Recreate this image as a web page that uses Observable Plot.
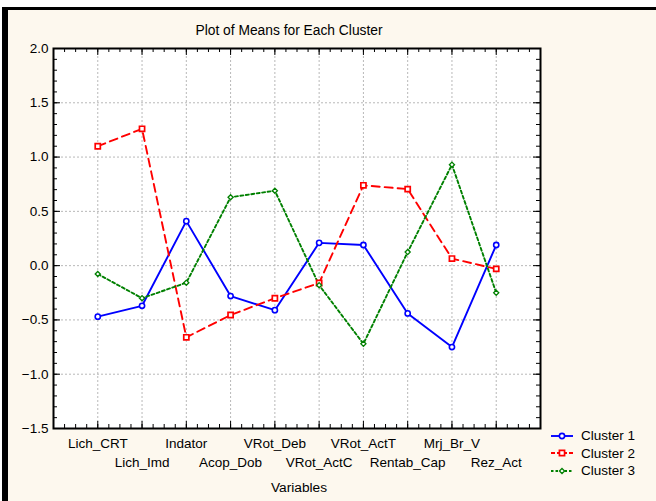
<!DOCTYPE html>
<html>
<head>
<meta charset="utf-8">
<script src="https://cdn.jsdelivr.net/npm/d3@7"></script>
<script src="https://cdn.jsdelivr.net/npm/@observablehq/plot@0.6"></script>
<style>
  html, body { margin: 0; padding: 0; background: #ffffff; }
  body { width: 656px; height: 501px; overflow: hidden; position: relative; font-family: "Liberation Sans", Arial, sans-serif; }
  #panel { position: absolute; left: 2px; top: 7px; width: 648px; height: 491px; border-top: 3px solid #000; border-left: 6px solid #000; background: #fdf8ee; }
  #legend { position: absolute; left: 550px; top: 427px; font-size: 13.5px; color: #000; }
  #legend .row { display: flex; align-items: center; height: 17.5px; }
  #legend svg { margin-right: 7px; }
</style>
</head>
<body>
<div id="panel"></div>
<div id="legend"></div>
<script>
const title = "Plot of Means for Each Cluster";
const xTitle = "Variables";
const variables = ["Lich_CRT", "Lich_Imd", "Indator", "Acop_Dob", "VRot_Deb", "VRot_ActC", "VRot_ActT", "Rentab_Cap", "Mrj_Br_V", "Rez_Act"];
const seriesNames = ["Cluster 1", "Cluster 2", "Cluster 3"];
const cluster1 = [-0.47, -0.37, 0.41, -0.28, -0.41, 0.21, 0.19, -0.44, -0.75, 0.19];
const cluster2 = [1.10, 1.26, -0.66, -0.455, -0.30, -0.16, 0.74, 0.705, 0.065, -0.03];
const cluster3 = [-0.077, -0.30, -0.157, 0.63, 0.69, -0.18, -0.72, 0.125, 0.93, -0.25];
const yTicks = [-1.5, -1.0, -0.5, 0.0, 0.5, 1.0, 1.5, 2.0];

const seriesValues = [cluster1, cluster2, cluster3];
const styles = [
  {color: "#0000ff", dash: null, symbol: "circle", r: 2.6, sw: 1.6},
  {color: "#ff0000", dash: "8,5", symbol: "square", r: 2.9, sw: 1.7},
  {color: "#008000", dash: "3,2.5", symbol: "diamond2", r: 2.3, sw: 1.3}
];

const rows = [];
seriesValues.forEach((vals, s) => vals.forEach((v, i) => rows.push({series: seriesNames[s], s, i, v})));

const idx = d3.range(variables.length);
const yMinor = d3.range(-15, 21).map(k => k / 10);
const xMinor = d3.range(-4, 41).map(k => k / 4);
const xMajor = d3.range(-1, 11);

const W = 648, H = 491, ML = 45, MR = 116, MT = 38, MB = 73;
const PW = W - ML - MR, PH = H - MT - MB;

const fontStyle = {fontSize: 13.5, fontFamily: "Liberation Sans, Arial, sans-serif", fill: "#000", lineAnchor: "middle"};
const tickStyle = {stroke: "#000", strokeWidth: 1};

const marks = [
  Plot.frame({fill: "#ffffff", stroke: null}),
  Plot.gridY(yTicks, {stroke: "#b8b8b8", strokeOpacity: 1, strokeDasharray: "2,2"}),
  Plot.gridX(idx, {stroke: "#b8b8b8", strokeOpacity: 1, strokeDasharray: "2,2"}),
  // inward ticks on all four sides
  Plot.ruleX(xMinor, {x: d => d, insetBottom: PH - 4, ...tickStyle}),
  Plot.ruleX(xMajor, {x: d => d, insetBottom: PH - 7, ...tickStyle}),
  Plot.ruleX(xMinor, {x: d => d, insetTop: PH - 4, ...tickStyle}),
  Plot.ruleX(xMajor, {x: d => d, insetTop: PH - 7, ...tickStyle}),
  Plot.ruleY(yMinor, {y: d => d, insetRight: PW - 4, ...tickStyle}),
  Plot.ruleY(yTicks, {y: d => d, insetRight: PW - 7, ...tickStyle}),
  Plot.ruleY(yMinor, {y: d => d, insetLeft: PW - 4, ...tickStyle}),
  Plot.ruleY(yTicks, {y: d => d, insetLeft: PW - 7, ...tickStyle}),
  // y labels
  Plot.axisY(yTicks, {anchor: "left", tickSize: 0, tickPadding: 5, tickFormat: d3.format(".1f"), label: null, fontSize: 13.5, fontFamily: "Liberation Sans, Arial, sans-serif", fill: "#000"}),
  // x labels (staggered)
  Plot.text(idx.filter(i => i % 2 === 0), {x: d => d, text: d => variables[d], frameAnchor: "bottom", dy: 15, ...fontStyle}),
  Plot.text(idx.filter(i => i % 2 === 1), {x: d => d, text: d => variables[d], frameAnchor: "bottom", dy: 34, ...fontStyle}),
  Plot.text([xTitle], {text: d => d, frameAnchor: "bottom", dy: 59, dx: 2, ...fontStyle, fontSize: 13.7}),
  Plot.text([title], {text: d => d, frameAnchor: "top", dy: -18, dx: -8, ...fontStyle, fontSize: 13.8}),
];

styles.forEach((st, s) => {
  const data = rows.filter(d => d.s === s);
  marks.push(Plot.line(data, {x: "i", y: "v", stroke: st.color, strokeWidth: 1.9, strokeDasharray: st.dash, strokeLinejoin: "miter"}));
});
styles.forEach((st, s) => {
  const data = rows.filter(d => d.s === s);
  marks.push(Plot.dot(data, {x: "i", y: "v", symbol: () => st.symbol, r: st.r, stroke: st.color, fill: "#ffffff", strokeWidth: st.sw}));
});
marks.push(Plot.frame({stroke: "#000", strokeWidth: 2}));

const chart = Plot.plot({
  width: W,
  height: H,
  marginLeft: ML,
  marginRight: MR,
  marginTop: MT,
  marginBottom: MB,
  style: {background: "transparent", fontFamily: "Liberation Sans, Arial, sans-serif", fontSize: "13.5px", overflow: "visible"},
  x: {domain: [-1, 10], axis: null, label: null},
  y: {domain: [-1.5, 2.0], axis: null, label: null},
  symbol: {type: "identity"},
  marks
});
document.getElementById("panel").appendChild(chart);

// legend
const legend = d3.select("#legend");
styles.forEach((st, s) => {
  const row = legend.append("div").attr("class", "row");
  const svg = row.append("svg").attr("width", 24).attr("height", 12);
  svg.append("line").attr("x1", 1).attr("x2", 23).attr("y1", 6).attr("y2", 6)
    .attr("stroke", st.color).attr("stroke-width", 1.9).attr("stroke-dasharray", s === 1 ? "4,2" : s === 2 ? "2.5,2" : null);
  const sym = d3.symbol().type(s === 0 ? d3.symbolCircle : s === 1 ? d3.symbolSquare : d3.symbolDiamond2).size(Math.PI * st.r * st.r);
  svg.append("path").attr("d", sym()).attr("transform", "translate(12,6)")
    .attr("fill", "#fff").attr("stroke", st.color).attr("stroke-width", st.sw);
  row.append("span").text(seriesNames[s]);
});
</script>
</body>
</html>
